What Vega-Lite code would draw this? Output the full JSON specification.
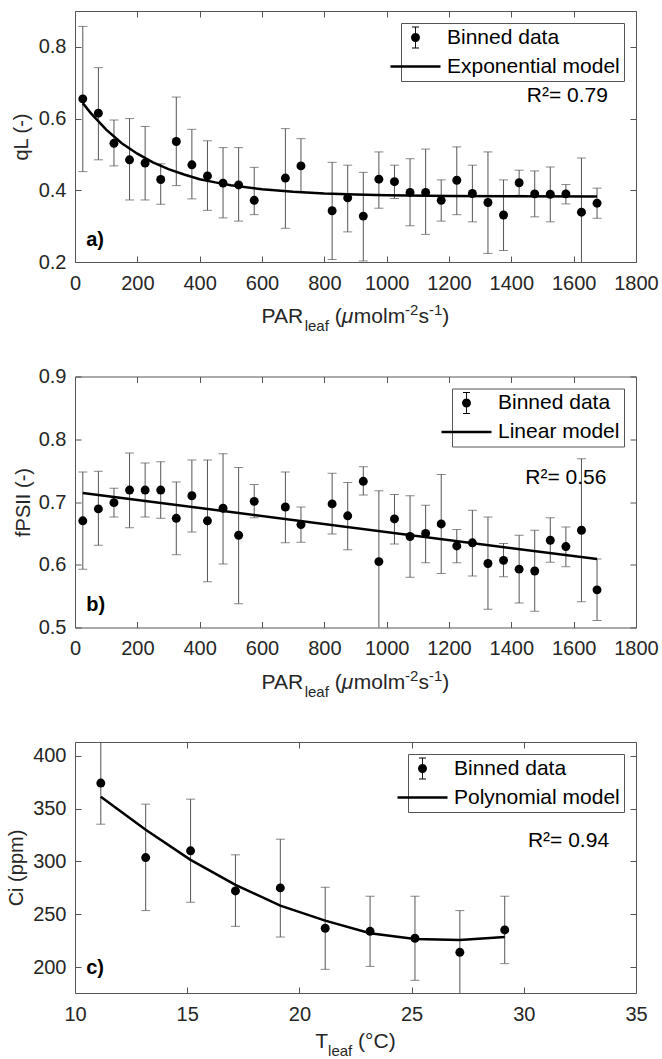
{
"$schema":"https://vega.github.io/schema/vega-lite/v6.json",
"padding":{"left":6,"top":10,"right":0,"bottom":0},
"background":"white",
"datasets":{
"a_pts":[
{"x":25,"y":0.655,"lo":0.452,"hi":0.857},
{"x":75,"y":0.615,"lo":0.485,"hi":0.742},
{"x":125,"y":0.531,"lo":0.468,"hi":0.596},
{"x":175,"y":0.485,"lo":0.373,"hi":0.6},
{"x":225,"y":0.476,"lo":0.373,"hi":0.578},
{"x":275,"y":0.43,"lo":0.361,"hi":0.474},
{"x":325,"y":0.536,"lo":0.413,"hi":0.66},
{"x":375,"y":0.471,"lo":0.376,"hi":0.57},
{"x":425,"y":0.44,"lo":0.344,"hi":0.538},
{"x":475,"y":0.42,"lo":0.323,"hi":0.519},
{"x":525,"y":0.415,"lo":0.314,"hi":0.519},
{"x":575,"y":0.372,"lo":0.332,"hi":0.464},
{"x":675,"y":0.434,"lo":0.294,"hi":0.572},
{"x":725,"y":0.468,"lo":0.394,"hi":0.544},
{"x":825,"y":0.343,"lo":0.207,"hi":0.478},
{"x":875,"y":0.379,"lo":0.284,"hi":0.47},
{"x":925,"y":0.328,"lo":0.203,"hi":0.45},
{"x":975,"y":0.431,"lo":0.35,"hi":0.507},
{"x":1025,"y":0.424,"lo":0.377,"hi":0.47},
{"x":1075,"y":0.394,"lo":0.301,"hi":0.488},
{"x":1125,"y":0.394,"lo":0.277,"hi":0.515},
{"x":1175,"y":0.372,"lo":0.314,"hi":0.429},
{"x":1225,"y":0.428,"lo":0.332,"hi":0.521},
{"x":1275,"y":0.391,"lo":0.312,"hi":0.47},
{"x":1325,"y":0.366,"lo":0.224,"hi":0.507},
{"x":1375,"y":0.331,"lo":0.232,"hi":0.429},
{"x":1425,"y":0.421,"lo":0.386,"hi":0.456},
{"x":1475,"y":0.39,"lo":0.326,"hi":0.454},
{"x":1525,"y":0.389,"lo":0.312,"hi":0.465},
{"x":1575,"y":0.39,"lo":0.362,"hi":0.416},
{"x":1625,"y":0.339,"lo":0.19,"hi":0.49},
{"x":1675,"y":0.364,"lo":0.322,"hi":0.406}
],
"a_fit":[
{"x":25,"y":0.643},{"x":50,"y":0.616},{"x":100,"y":0.569},{"x":150,"y":0.531},{"x":200,"y":0.502},{"x":250,"y":0.478},{"x":300,"y":0.459},{"x":350,"y":0.444},{"x":400,"y":0.431},{"x":450,"y":0.422},{"x":500,"y":0.414},{"x":600,"y":0.403},{"x":700,"y":0.396},{"x":800,"y":0.391},{"x":900,"y":0.388},{"x":1000,"y":0.386},{"x":1200,"y":0.384},{"x":1400,"y":0.3835},{"x":1675,"y":0.383}
],
"b_pts":[
{"x":25,"y":0.67,"lo":0.593,"hi":0.748},
{"x":75,"y":0.689,"lo":0.631,"hi":0.749},
{"x":125,"y":0.699,"lo":0.676,"hi":0.722},
{"x":175,"y":0.719,"lo":0.659,"hi":0.778},
{"x":225,"y":0.719,"lo":0.676,"hi":0.762},
{"x":275,"y":0.719,"lo":0.674,"hi":0.764},
{"x":325,"y":0.674,"lo":0.616,"hi":0.732},
{"x":375,"y":0.71,"lo":0.652,"hi":0.767},
{"x":425,"y":0.67,"lo":0.573,"hi":0.767},
{"x":475,"y":0.69,"lo":0.601,"hi":0.777},
{"x":525,"y":0.647,"lo":0.538,"hi":0.755},
{"x":575,"y":0.701,"lo":0.675,"hi":0.728},
{"x":675,"y":0.692,"lo":0.635,"hi":0.748},
{"x":725,"y":0.664,"lo":0.636,"hi":0.692},
{"x":825,"y":0.697,"lo":0.649,"hi":0.746},
{"x":875,"y":0.678,"lo":0.624,"hi":0.731},
{"x":925,"y":0.733,"lo":0.711,"hi":0.756},
{"x":975,"y":0.605,"lo":0.495,"hi":0.718},
{"x":1025,"y":0.673,"lo":0.633,"hi":0.712},
{"x":1075,"y":0.645,"lo":0.58,"hi":0.71},
{"x":1125,"y":0.65,"lo":0.603,"hi":0.695},
{"x":1175,"y":0.665,"lo":0.586,"hi":0.744},
{"x":1225,"y":0.63,"lo":0.603,"hi":0.656},
{"x":1275,"y":0.635,"lo":0.582,"hi":0.687},
{"x":1325,"y":0.602,"lo":0.529,"hi":0.676},
{"x":1375,"y":0.607,"lo":0.581,"hi":0.634},
{"x":1425,"y":0.593,"lo":0.539,"hi":0.647},
{"x":1475,"y":0.59,"lo":0.526,"hi":0.655},
{"x":1525,"y":0.639,"lo":0.604,"hi":0.675},
{"x":1575,"y":0.629,"lo":0.597,"hi":0.66},
{"x":1625,"y":0.655,"lo":0.541,"hi":0.769},
{"x":1675,"y":0.56,"lo":0.511,"hi":0.609}
],
"b_fit":[{"x":25,"y":0.7145},{"x":1675,"y":0.609}],
"c_pts":[
{"x":11.15,"y":374.1,"lo":335.2,"hi":415},
{"x":13.15,"y":303.6,"lo":253.4,"hi":354.2},
{"x":15.15,"y":310.0,"lo":261.3,"hi":358.9},
{"x":17.15,"y":272.0,"lo":238.5,"hi":306.2},
{"x":19.15,"y":274.9,"lo":228.4,"hi":321.0},
{"x":21.15,"y":236.7,"lo":197.8,"hi":275.5},
{"x":23.15,"y":233.8,"lo":200.6,"hi":267.0},
{"x":25.15,"y":227.2,"lo":187.4,"hi":267.0},
{"x":27.15,"y":213.9,"lo":172.0,"hi":253.4},
{"x":29.15,"y":235.1,"lo":203.2,"hi":267.0}
],
"c_fit":[
{"x":11.15,"y":361.1},{"x":13.15,"y":329.9},{"x":15.15,"y":301.4},{"x":17.15,"y":277.7},{"x":19.15,"y":258.1},{"x":21.15,"y":243.9},{"x":23.15,"y":231.9},{"x":25.15,"y":226.5},{"x":27.15,"y":225.6},{"x":29.15,"y":228.4}
]
},
"vconcat":[
{
"width":561,"height":251,
"resolve":{"axis":{"x":"independent","y":"independent"}},
"layer":[
{"data":{"name":"a_pts"},"mark":{"type":"rule","color":"#555","strokeWidth":1,"clip":true},
 "encoding":{
  "x":{"field":"x","type":"quantitative","scale":{"domain":[0,1800],"nice":false,"zero":false},"axis":{"orient":"bottom","values":[0,200,400,600,800,1000,1200,1400,1600,1800],"format":"d","title":null}},
  "y":{"field":"lo","type":"quantitative","scale":{"domain":[0.2,0.9],"nice":false,"zero":false},"axis":{"orient":"left","values":[0.2,0.4,0.6,0.8],"format":".1f","title":"qL (-)","titleX":-54,"titleBaseline":"middle"}},
  "y2":{"field":"hi"}}},
{"data":{"name":"a_pts"},"mark":{"type":"tick","orient":"horizontal","color":"#555","size":9,"thickness":1,"clip":true},
 "encoding":{"x":{"field":"x","type":"quantitative","axis":null},"y":{"field":"lo","type":"quantitative","axis":null}}},
{"data":{"name":"a_pts"},"mark":{"type":"tick","orient":"horizontal","color":"#555","size":9,"thickness":1,"clip":true},
 "encoding":{"x":{"field":"x","type":"quantitative","axis":null},"y":{"field":"hi","type":"quantitative","axis":null}}},
{"data":{"name":"a_fit"},"mark":{"type":"line","color":"black","strokeWidth":2.5},
 "encoding":{
  "x":{"field":"x","type":"quantitative","axis":{"orient":"top","values":[0,200,400,600,800,1000,1200,1400,1600,1800],"labels":false,"title":null}},
  "y":{"field":"y","type":"quantitative","axis":{"orient":"right","values":[0.2,0.4,0.6,0.8],"labels":false,"title":null}}}},
{"data":{"name":"a_pts"},"mark":{"type":"point","filled":true,"color":"black","size":80,"opacity":1},
 "encoding":{"x":{"field":"x","type":"quantitative","axis":null},"y":{"field":"y","type":"quantitative","axis":null}}},
{"data":{"values":[]},"mark":{"type":"point","filled":true,"color":"black","opacity":1},
 "encoding":{"shape":{"field":"sa","type":"nominal","scale":{"domain":["Binned data","Exponential model"],"range":["M0.9,0A0.9,0.9,0,1,1,-0.9,0A0.9,0.9,0,1,1,0.9,0Z M-0.09,-2.1H0.09V2.1H-0.09Z M-0.7,-2.2H0.7V-2H-0.7Z M-0.7,2H0.7V2.2H-0.7Z","M-5,-0.25H5V0.25H-5Z"]},"legend":{"title":null,"orient":"top-right","offset":12}}}},
{"data":{"values":[{}]},"mark":{"type":"text","align":"right","baseline":"alphabetic","fontSize":21,"color":"#000"},
 "encoding":{"x":{"datum":1710,"type":"quantitative","axis":null},"y":{"datum":0.647,"type":"quantitative","axis":null},"text":{"value":"R²= 0.79"}}},
{"data":{"values":[{}]},"mark":{"type":"text","align":"left","baseline":"alphabetic","fontSize":20,"fontWeight":"bold","color":"#000"},
 "encoding":{"x":{"datum":36,"type":"quantitative","axis":null},"y":{"datum":0.244,"type":"quantitative","axis":null},"text":{"value":"a)"}}},
{"data":{"values":[{}]},"mark":{"type":"text","align":"left","baseline":"alphabetic","fontSize":21,"dx":-94,"dy":61,"color":"#262626"},
 "encoding":{"x":{"datum":900,"type":"quantitative","axis":null},"y":{"datum":0.2,"type":"quantitative","axis":null},"text":{"value":"PAR"}}},
{"data":{"values":[{}]},"mark":{"type":"text","align":"left","baseline":"alphabetic","fontSize":15,"dx":-50.8,"dy":69,"color":"#262626"},
 "encoding":{"x":{"datum":900,"type":"quantitative","axis":null},"y":{"datum":0.2,"type":"quantitative","axis":null},"text":{"value":"leaf"}}},
{"data":{"values":[{}]},"mark":{"type":"text","align":"left","baseline":"alphabetic","fontSize":21,"dx":-20.8,"dy":61,"color":"#262626"},
 "encoding":{"x":{"datum":900,"type":"quantitative","axis":null},"y":{"datum":0.2,"type":"quantitative","axis":null},"text":{"value":"("}}},
{"data":{"values":[{}]},"mark":{"type":"text","align":"left","baseline":"alphabetic","fontSize":21,"fontStyle":"italic","dx":-13.8,"dy":61,"color":"#262626"},
 "encoding":{"x":{"datum":900,"type":"quantitative","axis":null},"y":{"datum":0.2,"type":"quantitative","axis":null},"text":{"value":"μ"}}},
{"data":{"values":[{}]},"mark":{"type":"text","align":"left","baseline":"alphabetic","fontSize":21,"dx":-1.7,"dy":61,"color":"#262626"},
 "encoding":{"x":{"datum":900,"type":"quantitative","axis":null},"y":{"datum":0.2,"type":"quantitative","axis":null},"text":{"value":"molm"}}},
{"data":{"values":[{}]},"mark":{"type":"text","align":"left","baseline":"alphabetic","fontSize":15,"dx":49.6,"dy":53,"color":"#262626"},
 "encoding":{"x":{"datum":900,"type":"quantitative","axis":null},"y":{"datum":0.2,"type":"quantitative","axis":null},"text":{"value":"-2"}}},
{"data":{"values":[{}]},"mark":{"type":"text","align":"left","baseline":"alphabetic","fontSize":21,"dx":62.9,"dy":61,"color":"#262626"},
 "encoding":{"x":{"datum":900,"type":"quantitative","axis":null},"y":{"datum":0.2,"type":"quantitative","axis":null},"text":{"value":"s"}}},
{"data":{"values":[{}]},"mark":{"type":"text","align":"left","baseline":"alphabetic","fontSize":15,"dx":73.4,"dy":53,"color":"#262626"},
 "encoding":{"x":{"datum":900,"type":"quantitative","axis":null},"y":{"datum":0.2,"type":"quantitative","axis":null},"text":{"value":"-1"}}},
{"data":{"values":[{}]},"mark":{"type":"text","align":"left","baseline":"alphabetic","fontSize":21,"dx":86.7,"dy":61,"color":"#262626"},
 "encoding":{"x":{"datum":900,"type":"quantitative","axis":null},"y":{"datum":0.2,"type":"quantitative","axis":null},"text":{"value":")"}}}
]
},
{
"width":561,"height":251,
"resolve":{"axis":{"x":"independent","y":"independent"}},
"layer":[
{"data":{"name":"b_pts"},"mark":{"type":"rule","color":"#555","strokeWidth":1,"clip":true},
 "encoding":{
  "x":{"field":"x","type":"quantitative","scale":{"domain":[0,1800],"nice":false,"zero":false},"axis":{"orient":"bottom","values":[0,200,400,600,800,1000,1200,1400,1600,1800],"format":"d","title":null}},
  "y":{"field":"lo","type":"quantitative","scale":{"domain":[0.5,0.9],"nice":false,"zero":false},"axis":{"orient":"left","values":[0.5,0.6,0.7,0.8,0.9],"format":".1f","title":"fPSII (-)","titleX":-52,"titleBaseline":"middle"}},
  "y2":{"field":"hi"}}},
{"data":{"name":"b_pts"},"mark":{"type":"tick","orient":"horizontal","color":"#555","size":9,"thickness":1,"clip":true},
 "encoding":{"x":{"field":"x","type":"quantitative","axis":null},"y":{"field":"lo","type":"quantitative","axis":null}}},
{"data":{"name":"b_pts"},"mark":{"type":"tick","orient":"horizontal","color":"#555","size":9,"thickness":1,"clip":true},
 "encoding":{"x":{"field":"x","type":"quantitative","axis":null},"y":{"field":"hi","type":"quantitative","axis":null}}},
{"data":{"name":"b_fit"},"mark":{"type":"line","color":"black","strokeWidth":2.5},
 "encoding":{
  "x":{"field":"x","type":"quantitative","axis":{"orient":"top","values":[0,200,400,600,800,1000,1200,1400,1600,1800],"labels":false,"title":null}},
  "y":{"field":"y","type":"quantitative","axis":{"orient":"right","values":[0.5,0.6,0.7,0.8,0.9],"labels":false,"title":null}}}},
{"data":{"name":"b_pts"},"mark":{"type":"point","filled":true,"color":"black","size":80,"opacity":1},
 "encoding":{"x":{"field":"x","type":"quantitative","axis":null},"y":{"field":"y","type":"quantitative","axis":null}}},
{"data":{"values":[]},"mark":{"type":"point","filled":true,"color":"black","opacity":1},
 "encoding":{"shape":{"field":"sb","type":"nominal","scale":{"domain":["Binned data","Linear model"],"range":["M0.9,0A0.9,0.9,0,1,1,-0.9,0A0.9,0.9,0,1,1,0.9,0Z M-0.09,-2.1H0.09V2.1H-0.09Z M-0.7,-2.2H0.7V-2H-0.7Z M-0.7,2H0.7V2.2H-0.7Z","M-5,-0.25H5V0.25H-5Z"]},"legend":{"title":null,"orient":"top-right","offset":12}}}},
{"data":{"values":[{}]},"mark":{"type":"text","align":"right","baseline":"alphabetic","fontSize":21,"color":"#000"},
 "encoding":{"x":{"datum":1705,"type":"quantitative","axis":null},"y":{"datum":0.729,"type":"quantitative","axis":null},"text":{"value":"R²= 0.56"}}},
{"data":{"values":[{}]},"mark":{"type":"text","align":"left","baseline":"alphabetic","fontSize":20,"fontWeight":"bold","color":"#000"},
 "encoding":{"x":{"datum":36,"type":"quantitative","axis":null},"y":{"datum":0.5265,"type":"quantitative","axis":null},"text":{"value":"b)"}}},
{"data":{"values":[{}]},"mark":{"type":"text","align":"left","baseline":"alphabetic","fontSize":21,"dx":-94,"dy":61,"color":"#262626"},
 "encoding":{"x":{"datum":900,"type":"quantitative","axis":null},"y":{"datum":0.5,"type":"quantitative","axis":null},"text":{"value":"PAR"}}},
{"data":{"values":[{}]},"mark":{"type":"text","align":"left","baseline":"alphabetic","fontSize":15,"dx":-50.8,"dy":69,"color":"#262626"},
 "encoding":{"x":{"datum":900,"type":"quantitative","axis":null},"y":{"datum":0.5,"type":"quantitative","axis":null},"text":{"value":"leaf"}}},
{"data":{"values":[{}]},"mark":{"type":"text","align":"left","baseline":"alphabetic","fontSize":21,"dx":-20.8,"dy":61,"color":"#262626"},
 "encoding":{"x":{"datum":900,"type":"quantitative","axis":null},"y":{"datum":0.5,"type":"quantitative","axis":null},"text":{"value":"("}}},
{"data":{"values":[{}]},"mark":{"type":"text","align":"left","baseline":"alphabetic","fontSize":21,"fontStyle":"italic","dx":-13.8,"dy":61,"color":"#262626"},
 "encoding":{"x":{"datum":900,"type":"quantitative","axis":null},"y":{"datum":0.5,"type":"quantitative","axis":null},"text":{"value":"μ"}}},
{"data":{"values":[{}]},"mark":{"type":"text","align":"left","baseline":"alphabetic","fontSize":21,"dx":-1.7,"dy":61,"color":"#262626"},
 "encoding":{"x":{"datum":900,"type":"quantitative","axis":null},"y":{"datum":0.5,"type":"quantitative","axis":null},"text":{"value":"molm"}}},
{"data":{"values":[{}]},"mark":{"type":"text","align":"left","baseline":"alphabetic","fontSize":15,"dx":49.6,"dy":53,"color":"#262626"},
 "encoding":{"x":{"datum":900,"type":"quantitative","axis":null},"y":{"datum":0.5,"type":"quantitative","axis":null},"text":{"value":"-2"}}},
{"data":{"values":[{}]},"mark":{"type":"text","align":"left","baseline":"alphabetic","fontSize":21,"dx":62.9,"dy":61,"color":"#262626"},
 "encoding":{"x":{"datum":900,"type":"quantitative","axis":null},"y":{"datum":0.5,"type":"quantitative","axis":null},"text":{"value":"s"}}},
{"data":{"values":[{}]},"mark":{"type":"text","align":"left","baseline":"alphabetic","fontSize":15,"dx":73.4,"dy":53,"color":"#262626"},
 "encoding":{"x":{"datum":900,"type":"quantitative","axis":null},"y":{"datum":0.5,"type":"quantitative","axis":null},"text":{"value":"-1"}}},
{"data":{"values":[{}]},"mark":{"type":"text","align":"left","baseline":"alphabetic","fontSize":21,"dx":86.7,"dy":61,"color":"#262626"},
 "encoding":{"x":{"datum":900,"type":"quantitative","axis":null},"y":{"datum":0.5,"type":"quantitative","axis":null},"text":{"value":")"}}}
]
},
{
"width":561,"height":251,
"resolve":{"axis":{"x":"independent","y":"independent"}},
"layer":[
{"data":{"name":"c_pts"},"mark":{"type":"rule","color":"#555","strokeWidth":1,"clip":true},
 "encoding":{
  "x":{"field":"x","type":"quantitative","scale":{"domain":[10,35],"nice":false,"zero":false},"axis":{"orient":"bottom","values":[10,15,20,25,30,35],"format":"d","title":null}},
  "y":{"field":"lo","type":"quantitative","scale":{"domain":[175.4,413],"nice":false,"zero":false},"axis":{"orient":"left","values":[200,250,300,350,400],"format":"d","title":"Ci (ppm)","titleX":-58.5,"titleBaseline":"middle"}},
  "y2":{"field":"hi"}}},
{"data":{"name":"c_pts"},"mark":{"type":"tick","orient":"horizontal","color":"#555","size":9,"thickness":1,"clip":true},
 "encoding":{"x":{"field":"x","type":"quantitative","axis":null},"y":{"field":"lo","type":"quantitative","axis":null}}},
{"data":{"name":"c_pts"},"mark":{"type":"tick","orient":"horizontal","color":"#555","size":9,"thickness":1,"clip":true},
 "encoding":{"x":{"field":"x","type":"quantitative","axis":null},"y":{"field":"hi","type":"quantitative","axis":null}}},
{"data":{"name":"c_fit"},"mark":{"type":"line","color":"black","strokeWidth":2.5},
 "encoding":{
  "x":{"field":"x","type":"quantitative","axis":{"orient":"top","values":[10,15,20,25,30,35],"labels":false,"title":null}},
  "y":{"field":"y","type":"quantitative","axis":{"orient":"right","values":[200,250,300,350,400],"labels":false,"title":null}}}},
{"data":{"name":"c_pts"},"mark":{"type":"point","filled":true,"color":"black","size":80,"opacity":1},
 "encoding":{"x":{"field":"x","type":"quantitative","axis":null},"y":{"field":"y","type":"quantitative","axis":null}}},
{"data":{"values":[]},"mark":{"type":"point","filled":true,"color":"black","opacity":1},
 "encoding":{"shape":{"field":"sc","type":"nominal","scale":{"domain":["Binned data","Polynomial model"],"range":["M0.9,0A0.9,0.9,0,1,1,-0.9,0A0.9,0.9,0,1,1,0.9,0Z M-0.09,-2.1H0.09V2.1H-0.09Z M-0.7,-2.2H0.7V-2H-0.7Z M-0.7,2H0.7V2.2H-0.7Z","M-5,-0.25H5V0.25H-5Z"]},"legend":{"title":null,"orient":"top-right","offset":12}}}},
{"data":{"values":[{}]},"mark":{"type":"text","align":"right","baseline":"alphabetic","fontSize":21,"color":"#000"},
 "encoding":{"x":{"datum":33.8,"type":"quantitative","axis":null},"y":{"datum":313.4,"type":"quantitative","axis":null},"text":{"value":"R²= 0.94"}}},
{"data":{"values":[{}]},"mark":{"type":"text","align":"left","baseline":"alphabetic","fontSize":20,"fontWeight":"bold","color":"#000"},
 "encoding":{"x":{"datum":10.5,"type":"quantitative","axis":null},"y":{"datum":193.4,"type":"quantitative","axis":null},"text":{"value":"c)"}}},
{"data":{"values":[{}]},"mark":{"type":"text","align":"left","baseline":"alphabetic","fontSize":21,"dx":-40.2,"dy":55,"color":"#262626"},
 "encoding":{"x":{"datum":22.5,"type":"quantitative","axis":null},"y":{"datum":175.4,"type":"quantitative","axis":null},"text":{"value":"T"}}},
{"data":{"values":[{}]},"mark":{"type":"text","align":"left","baseline":"alphabetic","fontSize":15,"dx":-27.4,"dy":63,"color":"#262626"},
 "encoding":{"x":{"datum":22.5,"type":"quantitative","axis":null},"y":{"datum":175.4,"type":"quantitative","axis":null},"text":{"value":"leaf"}}},
{"data":{"values":[{}]},"mark":{"type":"text","align":"left","baseline":"alphabetic","fontSize":21,"dx":2.6,"dy":55,"color":"#262626"},
 "encoding":{"x":{"datum":22.5,"type":"quantitative","axis":null},"y":{"datum":175.4,"type":"quantitative","axis":null},"text":{"value":"(°C)"}}}
]
}
],
"spacing":114.5,
"bounds":"flush",
"resolve":{"scale":{"x":"independent","y":"independent","shape":"independent"},"legend":{"shape":"independent"}},
"config":{
 "font":"Liberation Sans",
 "view":{"stroke":null},
 "axis":{"grid":false,"domainColor":"#555","domainWidth":1,"tickColor":"#555","tickWidth":1,"tickSize":-6,"labelFont":"Liberation Sans","labelFontSize":20,"labelColor":"#262626","labelFlush":false,"labelOverlap":false,"titleFont":"Liberation Sans","titleFontSize":20,"titleFontWeight":"normal","titleColor":"#262626","titlePadding":7},
 "axisX":{"labelPadding":17},
 "axisY":{"labelPadding":15},
 "text":{"font":"Liberation Sans"},
 "legend":{"labelFont":"Liberation Sans","labelFontSize":21,"labelColor":"#000","labelLimit":400,"symbolSize":100,"labelOffset":21,"padding":4,"rowPadding":6,"strokeColor":"#555","fillColor":"white","symbolFillColor":"black","symbolStrokeColor":"black","symbolStrokeWidth":0,"symbolOpacity":1,"cornerRadius":0}
}
}
